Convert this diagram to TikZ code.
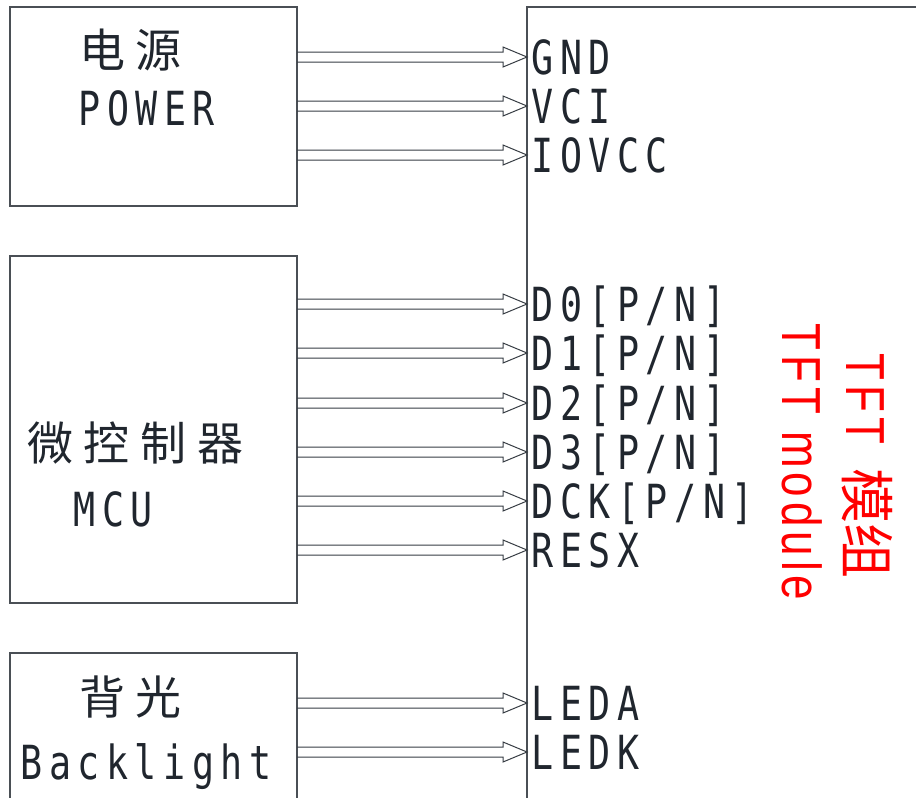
\documentclass[tikz,border=0pt]{standalone}
\usepackage{fontspec}
\setmonofont[FakeStretch=0.78,LetterSpace=14]{DejaVu Sans Mono}
\newfontfamily\cjkfont[LetterSpace=23]{Noto Sans CJK SC}
\newfontfamily\redcjk{Noto Sans CJK SC}
\newfontfamily\redfont[FakeStretch=0.8,LetterSpace=9]{Liberation Sans}
\usetikzlibrary{positioning,calc}
\definecolor{ink}{HTML}{20262E}
\definecolor{frame}{HTML}{4A4F55}

\tikzset{
    blk/.style={draw=frame, line width=0.6pt, rectangle, anchor=north west,
        inner sep=0pt, outer sep=0pt, minimum width=143.5pt},
    cn/.style={font=\fontsize{23pt}{23pt}\cjkfont, text=ink, anchor=west, inner sep=0pt},
    lat/.style={font=\fontsize{23.5pt}{23.5pt}\ttfamily, text=ink, anchor=west,
        inner sep=0pt, text height=17.1pt, text depth=0pt},
    red/.style={font=\fontsize{27.5pt}{27.5pt}\redfont, text=red, rotate=-90, inner sep=0pt},
    sig/.style={draw=ink!90, line width=0.5pt, line join=miter,
        to path={($(\tikztostart)+(0,5)$) -- ($(\tikztotarget)+(-24,5)$)
            -- ($(\tikztotarget)+(-24,10)$) -- (\tikztotarget)
            -- ($(\tikztotarget)+(-24,-10)$) -- ($(\tikztotarget)+(-24,-5)$)
            -- ($(\tikztostart)+(0,-5)$)}}
}

\begin{document}
\begin{tikzpicture}[x=0.5pt, y=-0.5pt]
    \path[use as bounding box, clip] (0,0) rectangle (916,798);

    %% Source blocks
    \node[blk, minimum height=99.5pt] (power) at (10,7) {};
    \node[blk, minimum height=173.5pt] (mcu) at (10,256) {};
    \node[blk, minimum height=90pt] (bl) at (10,653) {};

    \node[cn] (powercn) at (79,50) {电源};
    \node[lat] (poweren) at (78,108) {POWER};
    \node[cn] (mcucn) at (27,443) {微控制器};
    \node[lat] (mcuen) at (73,509) {MCU};
    \node[cn] (blcn) at (79,697) {背光};
    \node[lat] (blen) at (20,762) {Backlight};

    %% TFT module
    \node[blk, minimum width=250pt, minimum height=450pt] (tft) at (527,7) {};

    \node[lat] (gnd) at (531,57) {GND};
    \node[lat] (vci) at (531,106) {VCI};
    \node[lat] (iovcc) at (531,155) {IOVCC};
    \node[lat] (dzero) at (531,304) {D0[P/N]};
    \node[lat] (done) at (531,353) {D1[P/N]};
    \node[lat] (dtwo) at (531,403) {D2[P/N]};
    \node[lat] (dthree) at (531,452) {D3[P/N]};
    \node[lat] (dck) at (531,501) {DCK[P/N]};
    \node[lat] (resx) at (531,550) {RESX};
    \node[lat] (leda) at (531,703) {LEDA};
    \node[lat] (ledk) at (531,752) {LEDK};

    \node[red] (tftcn) at (867,466) {TFT\hspace*{12pt}{\redcjk 模组}};
    \node[red] (tften) at (802,462) {TFT module};

    %% Signals
    \foreach \pin in {gnd,vci,iovcc}
        \draw[sig] (power.east |- \pin) to (tft.west |- \pin);
    \foreach \pin in {dzero,done,dtwo,dthree,dck,resx}
        \draw[sig] (mcu.east |- \pin) to (tft.west |- \pin);
    \foreach \pin in {leda,ledk}
        \draw[sig] (bl.east |- \pin) to (tft.west |- \pin);
\end{tikzpicture}
\end{document}
